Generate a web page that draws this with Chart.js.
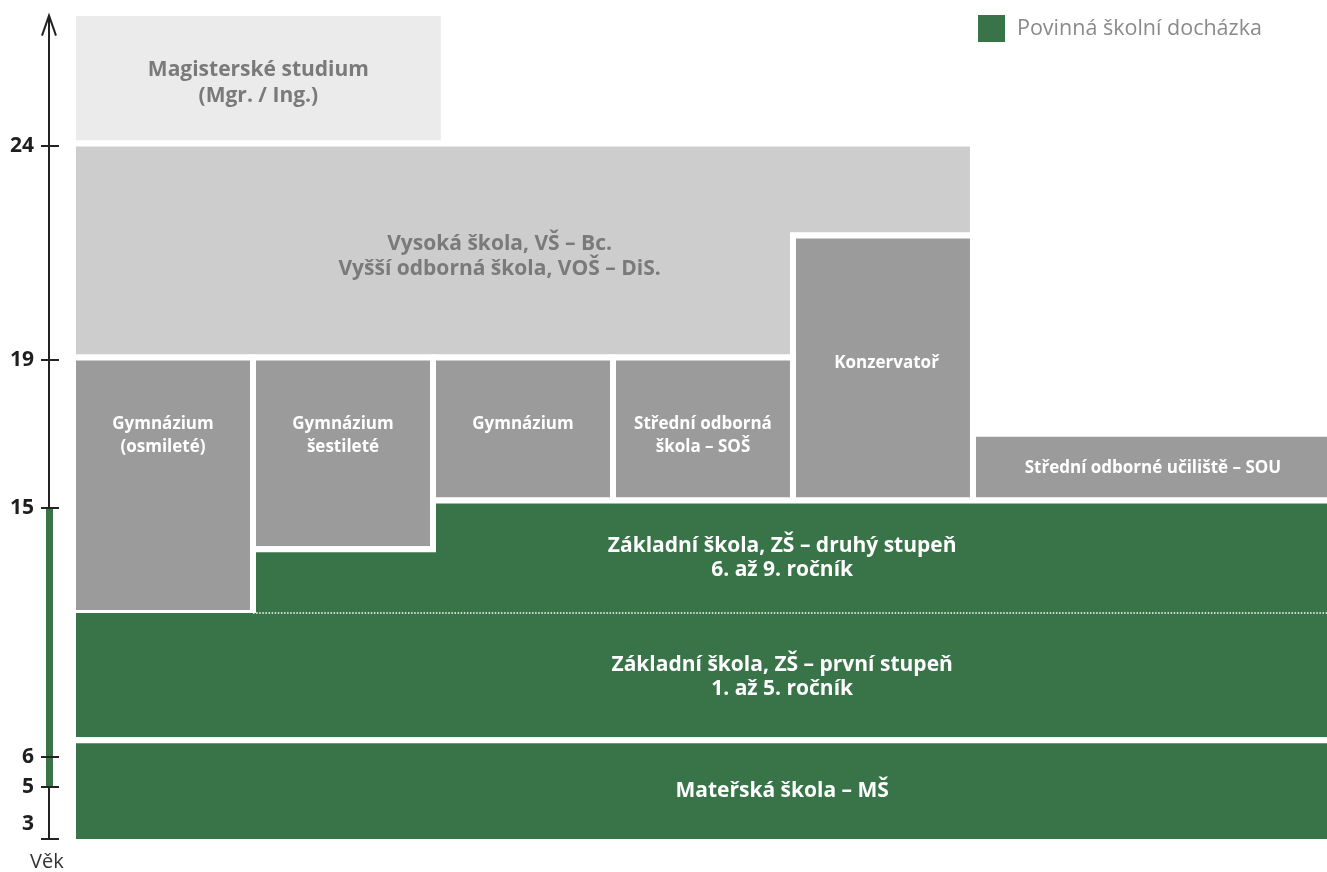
<!DOCTYPE html>
<html lang="cs">
<head>
<meta charset="utf-8">
<title>Vzdělávací soustava ČR</title>
<script src="https://cdn.jsdelivr.net/npm/chart.js@4.4.1/dist/chart.umd.min.js"></script>
<style>
html,body{margin:0;padding:0;background:#fff;overflow:hidden}
#wrap{position:relative;width:1327px;height:872px}
</style>
</head>
<body>
<div id="wrap"><canvas id="chart"></canvas></div>
<script>
// ================= DATA =================
const ageTicks = [3, 5, 6, 15, 19, 24];
const ageTickLabels = ['3', '5', '6', '15', '19', '24'];
const axisTitle = 'Věk';
const compulsoryAges = [5, 15];
const legendLabel = 'Povinná školní docházka';

const blockNames = [
  'Mateřská škola', 'ZŠ první stupeň', 'ZŠ druhý stupeň',
  'Gymnázium osmileté', 'Gymnázium šestileté', 'Gymnázium',
  'Střední odborná škola', 'Konzervatoř', 'Střední odborné učiliště',
  'Vysoká škola / Vyšší odborná škola', 'Magisterské studium'
];
const blockLevels = [
  'povinná', 'povinná', 'povinná',
  'střední', 'střední', 'střední', 'střední', 'střední', 'střední',
  'terciární', 'magisterské'
];
const blockLabels = [
  ['Mateřská škola – MŠ'],
  ['Základní škola, ZŠ – první stupeň', '1. až 5. ročník'],
  ['Základní škola, ZŠ – druhý stupeň', '6. až 9. ročník'],
  ['Gymnázium', '(osmileté)'],
  ['Gymnázium', 'šestileté'],
  ['Gymnázium'],
  ['Střední odborná', 'škola – SOŠ'],
  ['Konzervatoř'],
  ['Střední odborné učiliště – SOU'],
  ['Vysoká škola, VŠ – Bc.', 'Vyšší odborná škola, VOŠ – DiS.'],
  ['Magisterské studium', '(Mgr. / Ing.)']
];
// each block: list of column spans [fromColumn, toColumn, fromAge, toAge]
const blockSpans = [
  [[0, 7, 2.88, 6.6]],
  [[0, 7, 6.6, 11.2]],
  [[1, 2, 11.2, 13.5], [2, 7, 11.2, 15.2]],
  [[0, 1, 11.2, 19.05]],
  [[1, 2, 13.5, 19.05]],
  [[2, 3, 15.2, 19.05]],
  [[3, 4, 15.2, 19.05]],
  [[4, 5, 15.2, 21.9]],
  [[5, 7, 15.2, 17]],
  [[0, 4, 19.05, 24.05], [4, 5, 21.9, 24.05]],
  [[0, 2.06, 24.05, 27.1]]
];
const zsStageBoundaryAge = 11.2;

// ================= LAYOUT / STYLE =================
const LAYOUT = {
  padding: {left: 73, top: 13, right: 0, bottom: 30},
  xMax: 6.967, yMin: 2.88, yMax: 27.1,
  tickSpacing: [52, 30, 249, 148, 214],   // drawn distance between consecutive age ticks
  slopeBelow: 26, slopeAbove: 42.8,
  gap: 6,
  textDy: 1.5,
  axisX: 49, axisTopAge: 27.04
};
// label anchor (column, age) of the first text line of each block
const labelPos = [
  [3.94, 4.885], [3.94, 9.36], [3.94, 13.66],
  [0.5, 17.3], [1.5, 17.3], [2.5, 17.3], [3.5, 17.3], [4.52, 18.95], [6.0, 16.11],
  [2.37, 21.73], [1.03, 25.8]
];
const GREEN = '#397449';
const levelStyle = {
  'povinná':     {fill: GREEN,     text: '#ffffff', font: 21, lh: 24},
  'střední':     {fill: '#9b9b9b', text: '#ffffff', font: 17, lh: 23},
  'terciární':   {fill: '#cdcdcd', text: '#7a7a7a', font: 21, lh: 25},
  'magisterské': {fill: '#ebebeb', text: '#7a7a7a', font: 21, lh: 26}
};

// ================= piecewise age scale =================
function posOf(age) {
  const t = ageTicks, s = LAYOUT.tickSpacing;
  if (age <= t[0]) return (age - t[0]) * LAYOUT.slopeBelow;
  let acc = 0;
  for (let i = 0; i < t.length - 1; i++) {
    if (age <= t[i + 1]) return acc + (age - t[i]) / (t[i + 1] - t[i]) * s[i];
    acc += s[i];
  }
  return acc + (age - t[t.length - 1]) * LAYOUT.slopeAbove;
}
function ageOfPos(p) {
  const t = ageTicks, s = LAYOUT.tickSpacing;
  if (p <= 0) return t[0] + p / LAYOUT.slopeBelow;
  let acc = 0;
  for (let i = 0; i < t.length - 1; i++) {
    if (p <= acc + s[i]) return t[i] + (p - acc) / s[i] * (t[i + 1] - t[i]);
    acc += s[i];
  }
  return t[t.length - 1] + (p - acc) / LAYOUT.slopeAbove;
}
class AgeScale extends Chart.LinearScale {
  getPixelForValue(value) {
    if (value === null || value === undefined || isNaN(value)) return NaN;
    const p0 = posOf(this.min), p1 = posOf(this.max);
    return this.getPixelForDecimal((posOf(value) - p0) / (p1 - p0));
  }
  getValueForPixel(pixel) {
    const p0 = posOf(this.min), p1 = posOf(this.max);
    return ageOfPos(p0 + this.getDecimalForPixel(pixel) * (p1 - p0));
  }
}
AgeScale.id = 'age';
AgeScale.defaults = Chart.LinearScale.defaults;
Chart.register(AgeScale);

// ================= block outlines =================
function outline(spans, openAge) {
  let pts = [];
  spans.forEach(s => { pts.push({x: s[0], y: s[2]}, {x: s[1], y: s[2]}); });
  for (let i = spans.length - 1; i >= 0; i--) {
    const s = spans[i];
    pts.push({x: s[1], y: s[3]}, {x: s[0], y: s[3]});
  }
  pts = pts.filter((p, i, a) => {
    const q = a[(i - 1 + a.length) % a.length];
    return !(p.x === q.x && p.y === q.y);
  });
  const n = pts.length;
  if (openAge == null) return pts.concat([{x: pts[0].x, y: pts[0].y}]);
  let end = 0;
  for (let i = 0; i < n; i++) if (pts[i].y === openAge && pts[(i + 1) % n].y !== openAge) end = i;
  const out = [];
  for (let k = 0; k < n; k++) {
    const p = pts[(end + k) % n];
    out.push(p);
    if (k > 0 && p.y === openAge) break;
  }
  return out;
}

const datasets = [];
const zs2 = blockSpans[2];
datasets.push({
  label: 'Hranice stupňů ZŠ',
  data: [{x: zs2[0][0], y: zsStageBoundaryAge}, {x: Math.max(...zs2.map(s => s[1])), y: zsStageBoundaryAge}],
  borderColor: '#ffffff', borderWidth: 1.5, borderDash: [1.5, 1.6],
  fill: false, pointRadius: 0, order: 0
});
blockNames.forEach((name, i) => {
  const st = levelStyle[blockLevels[i]];
  const open = (i === 1 || i === 2) ? zsStageBoundaryAge : null;
  datasets.push({
    label: name,
    data: outline(blockSpans[i], open),
    backgroundColor: st.fill,
    borderColor: '#ffffff',
    borderWidth: LAYOUT.gap,
    borderJoinStyle: 'miter',
    borderCapStyle: open == null ? 'square' : 'butt',
    fill: 'shape',
    pointRadius: 0,
    tension: 0,
    order: i + 1
  });
});

// ================= plugins =================
const labelsPlugin = {
  id: 'blockLabels',
  afterDatasetsDraw(chart) {
    const {ctx, scales: {x, y}} = chart;
    ctx.save();
    ctx.textAlign = 'center';
    ctx.textBaseline = 'middle';
    blockLabels.forEach((lines, i) => {
      const st = levelStyle[blockLevels[i]];
      ctx.font = `700 ${st.font}px "Open Sans"`;
      ctx.fillStyle = st.text;
      const px = x.getPixelForValue(labelPos[i][0]);
      const py = y.getPixelForValue(labelPos[i][1]) + LAYOUT.textDy;
      lines.forEach((t, k) => ctx.fillText(t, px, py + k * st.lh));
    });
    ctx.restore();
  }
};

const ageAxisPlugin = {
  id: 'ageAxis',
  afterDraw(chart) {
    const {ctx, scales: {y}} = chart;
    const ax = LAYOUT.axisX;
    const top = y.getPixelForValue(LAYOUT.axisTopAge);
    const bottom = y.getPixelForValue(ageTicks[0]);
    ctx.save();
    ctx.strokeStyle = '#222222';
    ctx.lineWidth = 2;
    ctx.beginPath();
    ctx.moveTo(ax, top + 1);
    ctx.lineTo(ax, bottom);
    ctx.stroke();
    ctx.beginPath();
    ctx.moveTo(ax - 7, top + 20);
    ctx.lineTo(ax, top);
    ctx.lineTo(ax + 7, top + 20);
    ctx.stroke();
    // compulsory attendance bar
    const c0 = y.getPixelForValue(compulsoryAges[0]);
    const c1 = y.getPixelForValue(compulsoryAges[1]);
    ctx.fillStyle = GREEN;
    ctx.fillRect(ax - 3, c1, 7, c0 - c1);
    // ticks
    ctx.beginPath();
    ageTicks.forEach(a => {
      const p = Math.round(y.getPixelForValue(a));
      ctx.moveTo(ax - 8, p);
      ctx.lineTo(ax + 10, p);
    });
    ctx.stroke();
    // tick labels
    ctx.font = '700 21px "Open Sans"';
    ctx.fillStyle = '#1e1e1e';
    ctx.textAlign = 'right';
    ctx.textBaseline = 'middle';
    ageTicks.forEach((a, i) => {
      let p = y.getPixelForValue(a);
      if (i === 0) p -= 15;
      ctx.fillText(ageTickLabels[i], 34, p);
    });
    // axis title
    ctx.font = '400 20px "Open Sans"';
    ctx.fillStyle = '#333333';
    ctx.textAlign = 'left';
    ctx.fillText(axisTitle, 30, 862);
    // legend
    ctx.fillStyle = GREEN;
    ctx.fillRect(978, 15, 27, 27);
    ctx.font = '400 21.5px "Open Sans"';
    ctx.fillStyle = '#8a8a8a';
    ctx.fillText(legendLabel, 1017, 28.5);
    ctx.restore();
  }
};

function build() {
  new Chart(document.getElementById('chart'), {
    type: 'line',
    data: {datasets},
    options: {
      animation: false,
      responsive: true,
      maintainAspectRatio: false,
      events: [],
      layout: {padding: LAYOUT.padding},
      scales: {
        x: {type: 'linear', min: 0, max: LAYOUT.xMax, display: false},
        y: {type: 'age', min: LAYOUT.yMin, max: LAYOUT.yMax, display: false}
      },
      plugins: {legend: {display: false}, tooltip: {enabled: false}},
      elements: {point: {radius: 0}, line: {tension: 0}}
    },
    plugins: [labelsPlugin, ageAxisPlugin]
  });
}
if (document.fonts && document.fonts.load) {
  Promise.all([
    document.fonts.load('700 18px "Open Sans"'),
    document.fonts.load('400 18px "Open Sans"')
  ]).then(build, build);
} else {
  build();
}
</script>
</body>
</html>
